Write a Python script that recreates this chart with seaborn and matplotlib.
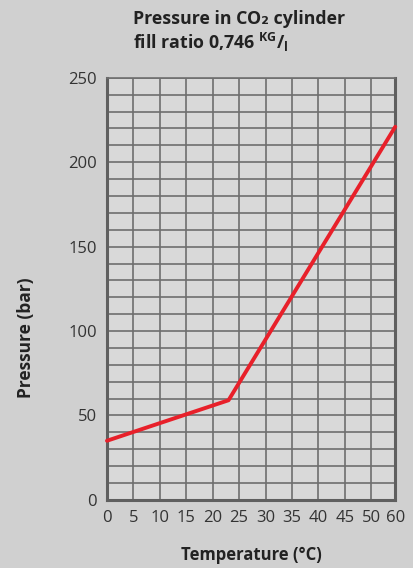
import numpy as np
import pandas as pd
import seaborn as sns
import matplotlib.pyplot as plt

# values
temps = [0, 23, 60]
pressures = [35, 59, 221]
x_ticks = [0, 5, 10, 15, 20, 25, 30, 35, 40, 45, 50, 60]
y_major = [0, 50, 100, 150, 200, 250]
y_minor = list(range(0, 251, 10))

df = pd.DataFrame({'Temperature': temps, 'Pressure': pressures})

sns.set_style('white')
plt.rcParams['font.family'] = ['Open Sans', 'DejaVu Sans']
plt.rcParams['mathtext.fontset'] = 'custom'
plt.rcParams['mathtext.rm'] = 'Open Sans'
plt.rcParams['mathtext.bf'] = 'Open Sans:bold'

fig = plt.figure(figsize=(4.13, 5.68), dpi=100, facecolor='#d0d0d0')
ax = fig.add_axes([0.259, 0.120, 0.698, 0.743])
ax.set_facecolor('#d9d9d9')

# the original chart squeezes 50..60 into one cell
def fwd(x):
    x = np.asarray(x, dtype=float)
    return np.where(x <= 50, x, 50 + (x - 50) * 0.455)

def inv(y):
    y = np.asarray(y, dtype=float)
    return np.where(y <= 50, y, 50 + (y - 50) / 0.455)

ax.set_xscale('function', functions=(fwd, inv))

gc = '#6f6f6f'
ax.set_xlim(0, 60)
ax.set_ylim(0, 250)
ax.set_xticks(x_ticks)
ax.set_xticklabels([str(t) for t in x_ticks])
ax.set_yticks(y_major)
ax.set_yticks(y_minor, minor=True)
ax.xaxis.set_minor_locator(plt.NullLocator())
ax.grid(True, which='both', axis='y', color=gc, linewidth=1.2, zorder=0)
ax.grid(True, which='major', axis='x', color=gc, linewidth=1.2, zorder=0)
ax.set_axisbelow(True)

sns.lineplot(data=df, x='Temperature', y='Pressure', ax=ax, color='#e8202a',
             linewidth=2.8, zorder=5, clip_on=False)

for s in ['left', 'bottom', 'right']:
    ax.spines[s].set_color('#5f5f5f')
    ax.spines[s].set_linewidth(2.2)
ax.spines['top'].set_color(gc)
ax.spines['top'].set_linewidth(1.2)

ax.tick_params(axis='both', which='major', length=5, width=1.2, color=gc,
               labelsize=12, labelcolor='#333333', pad=2)
ax.tick_params(axis='y', which='minor', length=0)

ax.set_xlabel('Temperature (°C)', fontsize=12, fontweight='bold', color='#222222')
ax.set_ylabel('Pressure (bar)', fontsize=12.5, fontweight='bold', color='#222222')
ax.xaxis.set_label_coords(0.5, -0.11)
ax.yaxis.set_label_coords(-0.25, 0.384)

fig.text(0.322, 0.966, 'Pressure in CO₂ cylinder', fontsize=12.8, fontweight='bold',
         color='#222222', ha='left', va='center', family=['Open Sans', 'DejaVu Sans'])
fig.text(0.322, 0.925, r'fill ratio 0,746 $^{\mathbf{KG}}$/$_{\mathbf{l}}$', fontsize=12.8,
         fontweight='bold', color='#222222', ha='left', va='center')

fig.savefig('out.png', dpi=100, facecolor=fig.get_facecolor())
